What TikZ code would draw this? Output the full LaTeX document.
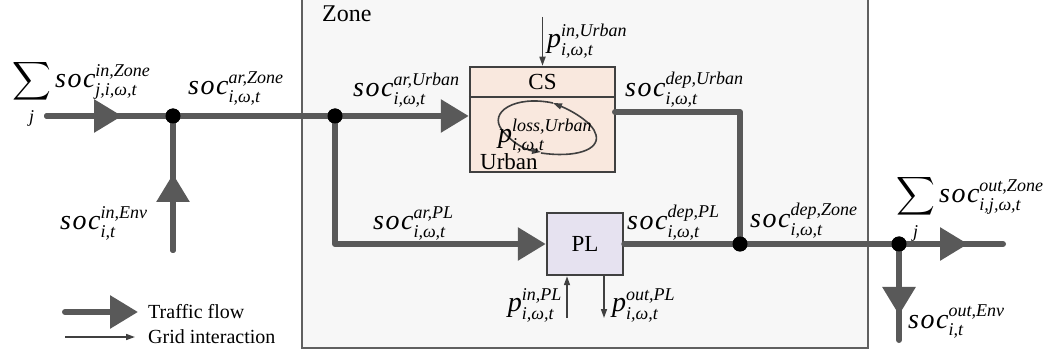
\documentclass[tikz,border=0pt]{standalone}
\usepackage{amsmath}
\usepackage{fontspec}
\setmainfont{Liberation Serif}
\newfontfamily\lblf{Liberation Serif}
\usetikzlibrary{arrows.meta}
\DeclareMathSizes{28}{28}{18}{13}
\definecolor{flowgray}{RGB}{89,89,89}
\definecolor{edgegray}{RGB}{64,64,64}
\definecolor{zonefill}{RGB}{247,247,247}
\definecolor{zoneline}{RGB}{96,96,96}
\definecolor{csfill}{RGB}{249,232,222}
\definecolor{plfill}{RGB}{230,226,240}
\newcommand\ti[1]{\text{\lblf\itshape #1}}
\newcommand\socx{\ti{s\kern1.5pt o\kern1.5pt c}}
\newcommand\pvar{\ti{p}}
\newcommand\bigsum{\mathop{\vcenter{\hbox{\scalebox{1.08}{$\displaystyle\sum$}}}}\limits}
\tikzset{
  flow/.style={draw=flowgray,line width=6pt,line cap=round,line join=round},
  flowarrow/.style={flow,-{Triangle[length=28pt,width=32pt]}},
  gridarrow/.style={draw=edgegray,line width=1.6pt,-{Triangle[length=9pt,width=6pt]}},
  junction/.style={circle,fill=black,inner sep=0pt,minimum size=15pt},
  lbl/.style={inner sep=0pt,font=\lblf\fontsize{28}{32}\selectfont},
  boxtxt/.style={inner sep=0pt,font=\fontsize{23}{26}\selectfont},
  legtxt/.style={inner sep=0pt,anchor=west,font=\fontsize{20}{24}\selectfont},
  unitbox/.style={draw=edgegray,line width=2.5pt,inner sep=0pt}
}
\begin{document}
\begin{tikzpicture}[x=1pt,y=-1pt]
\useasboundingbox (0,0) rectangle (1058,358);
% zone
\draw[draw=zoneline,line width=1.5pt,fill=zonefill] (302,-10) rectangle (868,348);
\node[boxtxt,anchor=base west,font=\fontsize{24}{28}\selectfont] (zonelbl) at (322,22) {Zone};
% units
\node[unitbox,fill=csfill,minimum width=145pt,minimum height=105pt] (cs) at (542.5,119.5) {};
\draw[edgegray,line width=2.5pt] (cs.west |- 0,97) -- (cs.east |- 0,97);
\node[boxtxt] (cstxt) at (542.5,82) {CS};
\node[unitbox,fill=plfill,minimum width=76pt,minimum height=62pt] (pl) at (585,244) {};
\node[boxtxt] (pltxt) at (585,244) {PL};
% coordinates
\coordinate (inL) at (47,116);
\coordinate (inTip) at (122,116);
\coordinate (envS) at (173,250);
\coordinate (envTip) at (173,174);
\coordinate (csOut) at (615,112);
\coordinate (outR) at (1003,244);
\coordinate (outTip) at (968,244);
\coordinate (envE) at (899,340);
\coordinate (envOTip) at (899,315);
\node[junction] (d1) at (173,116) {};
\node[junction] (d2) at (335,116) {};
\node[junction] (d3) at (740,244) {};
\node[junction] (d4) at (899,244) {};
% flows
\draw[flow] (inL) -- (d1);
\draw[flowarrow] (inL) -- (inTip);
\draw[flow] (envS) -- (d1);
\draw[flowarrow] (envS) -- (envTip);
\draw[flow] (d1) -- (d2);
\draw[flowarrow] (d2) -- (d2 -| cs.west);
\draw[flowarrow] (d2) |- (pl.west);
\draw[flow] (csOut) -| (d3);
\draw[flow] (pl.east) -- (d3);
\draw[flow] (d3) -- (d4);
\draw[flow] (d4) -- (outR);
\draw[flowarrow] (d4) -- (outTip);
\draw[flow] (d4) -- (envE);
\draw[flowarrow] (d4) -- (envOTip);
% junctions on top
\fill (d1) circle (7.5pt); \fill (d2) circle (7.5pt); \fill (d3) circle (7.5pt); \fill (d4) circle (7.5pt);
% grid interactions
\coordinate (pinU) at (542.5,17);
\coordinate (pinPL) at (567,318);
\coordinate (poutPL) at (604,318);
\draw[gridarrow] (pinU) -- (cs.north);
\draw[gridarrow] (pinPL) -- (pinPL |- pl.south);
\draw[gridarrow] (poutPL |- pl.south) -- (poutPL);
% loss loop
\draw[gridarrow] (553,103) .. controls (515,95) and (488,112) .. (502,130) .. controls (512,143) and (526,150) .. (541,152);
\draw[gridarrow] (541,153) .. controls (575,158) and (600,150) .. (596,135) .. controls (593,122) and (570,110) .. (553,103);
% labels
\node[lbl,anchor=base west] (lInZone) at (12,88) {$\bigsum_{\rule{0pt}{15pt}\ti{j}}\socx^{\ti{in,Zone}}_{\ti{j,i,ω,t}}$};
\node[lbl,anchor=base west] (lArZone) at (188,95) {$\socx^{\ti{ar,Zone}}_{\ti{i,ω,t}}$};
\node[lbl,anchor=base west] (lInEnv) at (60,230) {$\socx^{\ti{in,Env}}_{\ti{i,t}}$};
\node[lbl,anchor=base west] (lArUrban) at (353,97) {$\socx^{\ti{ar,Urban}}_{\ti{i,ω,t}}$};
\node[lbl,anchor=base west] (lPinUrban) at (547,48) {$\pvar^{\ti{in,Urban}}_{\ti{i,ω,t}}$};
\node[lbl,anchor=base west] (lDepUrban) at (625,97) {$\socx^{\ti{dep,Urban}}_{\ti{i,ω,t}}$};
\node[lbl,anchor=base west] (lLoss) at (498,143) {$\pvar^{\ti{loss,Urban}}_{\ti{i,ω,t}}$};
\node[boxtxt,anchor=base west] (lUrban) at (480,170) {Urban};
\node[lbl,anchor=base west] (lArPL) at (373,230) {$\socx^{\ti{ar,PL}}_{\ti{i,ω,t}}$};
\node[lbl,anchor=base west] (lDepPL) at (627,230) {$\socx^{\ti{dep,PL}}_{\ti{i,ω,t}}$};
\node[lbl,anchor=base east] (lPinPL) at (562,312) {$\pvar^{\ti{in,PL}}_{\ti{i,ω,t}}$};
\node[lbl,anchor=base west] (lPoutPL) at (612,312) {$\pvar^{\ti{out,PL}}_{\ti{i,ω,t}}$};
\node[lbl,anchor=base west] (lDepZone) at (750,228) {$\socx^{\ti{dep,Zone}}_{\ti{i,ω,t}}$};
\node[lbl,anchor=base west] (lOutZone) at (896,203) {$\bigsum_{\rule{0pt}{15pt}\ti{j}}\socx^{\ti{out,Zone}}_{\ti{i,j,ω,t}}$};
\node[lbl,anchor=base west] (lOutEnv) at (908,328) {$\socx^{\ti{out,Env}}_{\ti{i,t}}$};
% legend
\coordinate (lg1a) at (65,312); \coordinate (lg1b) at (138,312);
\coordinate (lg2a) at (65,337); \coordinate (lg2b) at (135,337);
\draw[flowarrow] (lg1a) -- (lg1b);
\draw[gridarrow] (lg2a) -- (lg2b);
\node[legtxt] (lgt1) at (148,312) {Traffic flow};
\node[legtxt] (lgt2) at (148,337) {Grid interaction};
\end{tikzpicture}
\end{document}
